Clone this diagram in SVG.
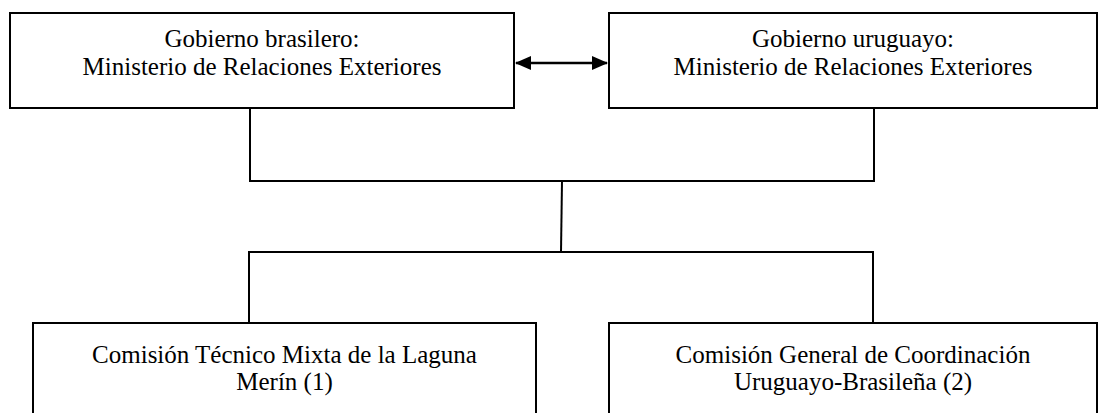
<svg xmlns="http://www.w3.org/2000/svg" width="1100" height="413" viewBox="0 0 1100 413">
<style>
.box{fill:#fff;stroke:#000;stroke-width:2}
.ln{fill:none;stroke:#000;stroke-width:2}
.arr{fill:none;stroke:#000;stroke-width:2.5}
.t{font-family:"Liberation Serif","Times New Roman",serif;font-size:25px;fill:#000;text-anchor:middle}
</style>
<defs>
<marker id="ah" viewBox="0 0 16 14" refX="15" refY="7" markerWidth="16" markerHeight="14" markerUnits="userSpaceOnUse" orient="auto-start-reverse">
<path d="M0,0 L16,7 L0,14 Z" fill="#000"/>
</marker>
</defs>
<g id="connectors">
<path class="ln" d="M250,108 V181 H874 V108"/>
<path class="ln" d="M562,181 L561,252"/>
<path class="ln" d="M249,323 V252 H873 V323"/>
<line class="arr" x1="516" y1="63" x2="607" y2="63" marker-start="url(#ah)" marker-end="url(#ah)"/>
</g>
<g id="gob-br">
<rect class="box" x="10" y="13" width="504" height="95"/>
<text class="t" x="262" y="47">Gobierno brasilero:</text>
<text class="t" x="262" y="75">Ministerio de Relaciones Exteriores</text>
</g>
<g id="gob-uy">
<rect class="box" x="609" y="13" width="488" height="95"/>
<text class="t" x="853" y="47">Gobierno uruguayo:</text>
<text class="t" x="853" y="75">Ministerio de Relaciones Exteriores</text>
</g>
<g id="ctm">
<rect class="box" x="33" y="323" width="503" height="100"/>
<text class="t" x="284.5" y="363">Comisión Técnico Mixta de la Laguna</text>
<text class="t" x="284.5" y="390">Merín (1)</text>
</g>
<g id="cgc">
<rect class="box" x="609" y="323" width="488" height="100"/>
<text class="t" x="853" y="363">Comisión General de Coordinación</text>
<text class="t" x="853" y="390">Uruguayo-Brasileña (2)</text>
</g>
</svg>
